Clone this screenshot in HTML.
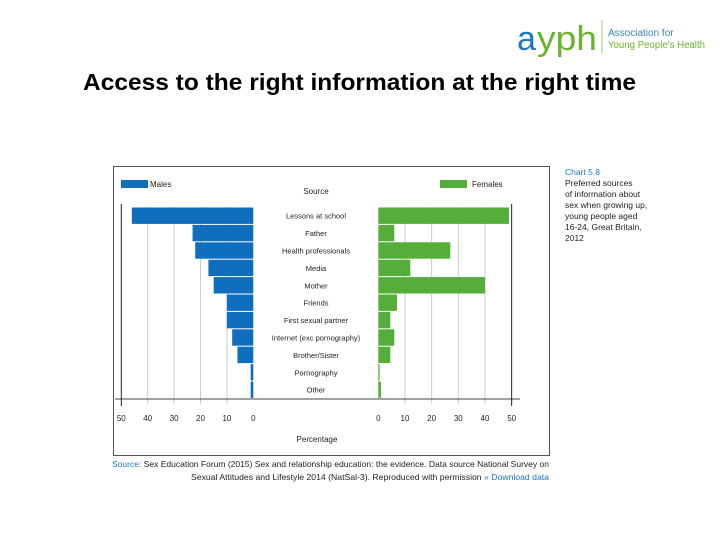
<!DOCTYPE html>
<html><head><meta charset="utf-8"><style>
body{margin:0;background:#fff;}
svg{display:block;font-family:"Liberation Sans",sans-serif;}
</style></head><body>
<svg id="c" width="720" height="540">
<g>
<text x="517" y="50" font-size="34" fill="#1a78c2">a</text>
<text x="537" y="50" font-size="34" fill="#6ab42d" textLength="60" lengthAdjust="spacingAndGlyphs">yph</text>
<line x1="602" y1="20" x2="602" y2="54" stroke="#9ccc7a" stroke-width="1"/>
<text x="608" y="36" font-size="10" fill="#3a7fc0">Association for</text>
<text x="608" y="48" font-size="10" fill="#6ab42d" textLength="97" lengthAdjust="spacingAndGlyphs">Young People's Health</text>
</g>
<text x="83" y="90" font-size="23" font-weight="bold" fill="#000" textLength="553" lengthAdjust="spacingAndGlyphs">Access to the right information at the right time</text>
<rect x="113.5" y="166.5" width="436" height="289" fill="#fff" stroke="#555" stroke-width="1"/>
<g id="plot"></g>
<g font-size="8.5">
<text x="565" y="175" fill="#1a78c2">Chart 5.8</text>
<text x="565" y="186" fill="#222">Preferred sources</text>
<text x="565" y="197" fill="#222">of information about</text>
<text x="565" y="208" fill="#222">sex when growing up,</text>
<text x="565" y="219" fill="#222">young people aged</text>
<text x="565" y="230" fill="#222">16-24, Great Britain,</text>
<text x="565" y="241" fill="#222">2012</text>
</g>
<g font-size="8.5" text-anchor="end">
<text x="549" y="467" fill="#222" textLength="437" lengthAdjust="spacingAndGlyphs"><tspan fill="#1a78c2">Source:</tspan> Sex Education Forum (2015) Sex and relationship education: the evidence. Data source National Survey on</text>
<text x="549" y="480" fill="#222" textLength="358" lengthAdjust="spacingAndGlyphs">Sexual Attitudes and Lifestyle 2014 (NatSal-3). Reproduced with permission <tspan fill="#1a78c2">» Download data</tspan></text>
</g>
</svg>
<script>
const categories=["Lessons at school","Father","Health professionals","Media","Mother","Friends","First sexual partner","Internet (exc pornography)","Brother/Sister","Pornography","Other"];
const males=[46,23,22,17,15,10,10,8,6,1,1];
const females=[49,6,27,12,40,7,4.5,6,4.5,0.5,1];
const ticks=[0,10,20,30,40,50];
const NS="http://www.w3.org/2000/svg";
const g=document.getElementById('plot');
const L0=253.3,R0=378.3,LS=2.64,RS=2.667,topY=207,rowH=17.4,axisY=399;
const xl=v=>L0-v*LS, xr=v=>R0+v*RS, yr=i=>topY+i*rowH;
function mk(t,a){const e=document.createElementNS(NS,t);for(const k in a)e.setAttribute(k,a[k]);g.appendChild(e);return e;}
ticks.forEach(t=>{
 if(t>0&&t<50){
  let l=mk('line',{x1:xl(t),x2:xl(t),y1:topY,y2:axisY+5,stroke:'#ccc'});
  
  
  let r=mk('line',{x1:xr(t),x2:xr(t),y1:topY,y2:axisY+5,stroke:'#ccc'});
  
  
 }
 let a=mk('text',{x:xl(t),y:421,'font-size':8,'text-anchor':'middle',fill:'#222'});a.textContent=t;
 
 
 let b=mk('text',{x:xr(t),y:421,'font-size':8,'text-anchor':'middle',fill:'#222'});b.textContent=t;
 
 
});
categories.forEach((c,i)=>{
 let m=mk('rect',{x:xl(males[i]),y:yr(i)+0.5,width:males[i]*LS,height:rowH-1,fill:'#106ebe'});
 
 
 let f=mk('rect',{x:R0,y:yr(i)+0.5,width:females[i]*RS,height:rowH-1,fill:'#56ae3a'});
 
 
 let t=mk('text',{x:316,y:yr(i)+rowH/2+3,'font-size':7.5,'text-anchor':'middle',fill:'#222'});t.textContent=c;
 
 
});
let ax=mk('line',{x1:115,x2:520,y1:axisY,y2:axisY,stroke:'#444'});


let v1=mk('line',{x1:xl(50),x2:xl(50),y1:topY-3,y2:axisY+7,stroke:'#222'});


let v2=mk('line',{x1:xr(50),x2:xr(50),y1:topY-3,y2:axisY+7,stroke:'#222'});


const lg=[[121,'#106ebe','Males',150],[440,'#56ae3a','Females',472]];
lg.forEach(([x,col,txt,tx])=>{
 let r=mk('rect',{x:x,y:180,width:27,height:8,fill:col});
 
 
 let t=mk('text',{x:tx,y:187,'font-size':8,fill:'#222'});t.textContent=txt;
 
 
});
let s=mk('text',{x:316,y:194,'font-size':8,'text-anchor':'middle',fill:'#222'});s.textContent='Source';


let p=mk('text',{x:317,y:442,'font-size':8,'text-anchor':'middle',fill:'#222'});p.textContent='Percentage';


</script>
</body></html>
